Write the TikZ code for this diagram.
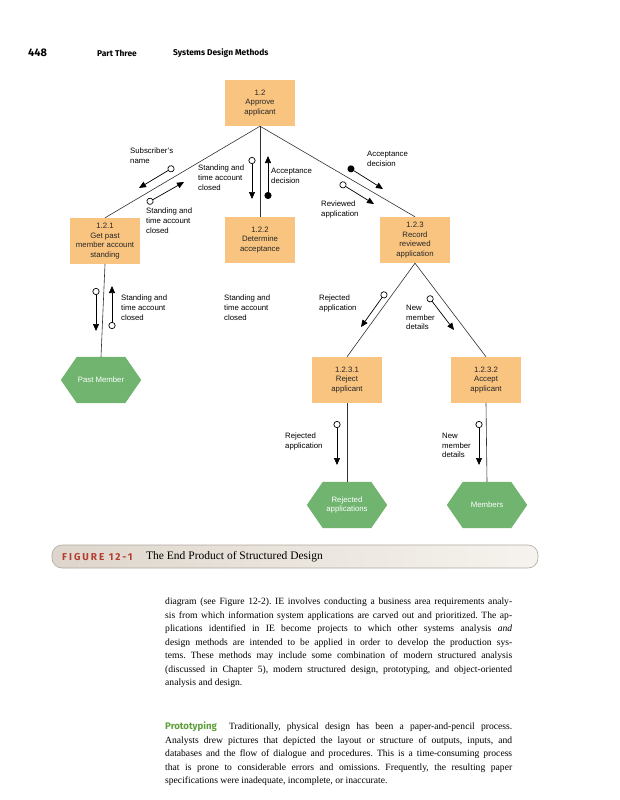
\documentclass[tikz,border=0pt]{standalone}
\usepackage{fontspec}
\setmainfont{Liberation Serif}
\setsansfont{Liberation Sans}
\newfontfamily\hdfont{Fira Sans}
\usetikzlibrary{arrows.meta,backgrounds}
\definecolor{boxorange}{RGB}{249,196,128}
\definecolor{hexgreen}{RGB}{112,180,112}
\definecolor{figred}{RGB}{180,60,45}
\definecolor{protogreen}{RGB}{95,160,60}
\definecolor{linegray}{RGB}{50,50,50}
\definecolor{barleft}{RGB}{222,214,204}
\definecolor{barright}{RGB}{246,243,238}
\definecolor{barborder}{RGB}{175,168,160}
\tikzset{
  diag/.style={font=\sffamily\fontsize{7.8}{9.6}\selectfont},
  proc/.style={diag, fill=boxorange, minimum width=70pt, minimum height=46pt, align=center, inner sep=1pt, text=black!85},
  hexn/.style={diag, minimum width=80pt, minimum height=46pt, align=center, text=white, inner sep=0pt},
  link/.style={draw=linegray, line width=0.6pt},
  flowo/.style={draw=black, line width=0.7pt, arrows={Circle[open,length=7pt,width=7pt]-Triangle[length=7pt,width=6pt]}},
  flowf/.style={draw=black, line width=0.7pt, arrows={Circle[length=7pt,width=7pt]-Triangle[length=7pt,width=6pt]}},
  lbl/.style={diag, align=left, anchor=north west, inner sep=0pt},
  hexfill/.style={fill=hexgreen},
  hdr/.style={anchor=west, inner sep=0pt, font=\hdfont\bfseries\fontsize{8.4}{9}\selectfont},
  body/.style={anchor=north west, inner sep=0pt, text width=347pt, align=justify, font=\fontsize{9.6}{13.5}\selectfont},
}
\newcommand{\hexpath}[1]{%
  \fill[hexfill] (#1.west) -- ([xshift=16pt]#1.north west) -- ([xshift=-16pt]#1.north east) -- (#1.east) -- ([xshift=-16pt]#1.south east) -- ([xshift=16pt]#1.south west) -- cycle;}
\newcommand{\jline}[1]{\hbox to 347pt{#1}}
\begin{document}
\begin{tikzpicture}[x=1pt,y=-1pt]
\useasboundingbox (0,0) rectangle (619,800);

% header
\node[hdr, font=\hdfont\bfseries\fontsize{11}{12}\selectfont] (pg) at (28,53) {448};
\node[hdr] (part) at (97,53) {Part Three};
\node[hdr] (chap) at (173,53) {Systems Design Methods};

% process boxes
\node[proc] (n12) at (260,103) {1.2\\Approve\\applicant};
\node[proc] (n121) at (105,241) {1.2.1\\Get past\\member account\\standing};
\node[proc] (n122) at (260,240) {1.2.2\\Determine\\acceptance};
\node[proc] (n123) at (415,240) {1.2.3\\Record\\reviewed\\application};
\node[proc] (n1231) at (347,380) {1.2.3.1\\Reject\\applicant};
\node[proc] (n1232) at (486,380) {1.2.3.2\\Accept\\applicant};

% data stores (hexagons)
\node[hexn] (past) at (101,380) {Past Member};
\node[hexn] (rej) at (347,505) {Rejected\\applications};
\node[hexn] (mem) at (487,505) {Members};
\begin{scope}[on background layer]
\fill[white] (0,0) rectangle (619,800);
\hexpath{past}
\hexpath{rej}
\hexpath{mem}
\end{scope}

% structure links
\draw[link] (n12.south) -- (n121.north);
\draw[link] (n12.south) -- (n122.north);
\draw[link] (n12.south) -- (n123.north);
\draw[link] (n123.south) -- (n1231.north);
\draw[link] (n123.south) -- (n1232.north);
\draw[link] (n121.south) -- (past.north);
\draw[link] (n1231.south) -- (rej.north);
\draw[link] (n1232.south) -- (mem.north);

% flow couples
\coordinate (a1s) at (174,167); \coordinate (a1e) at (139,188);
\coordinate (a2s) at (147,203); \coordinate (a2e) at (184,182);
\coordinate (a3s) at (252,157); \coordinate (a3e) at (252,199);
\coordinate (a4s) at (268,199); \coordinate (a4e) at (268,156);
\coordinate (a5s) at (348,167); \coordinate (a5e) at (383,189);
\coordinate (a6s) at (340,183); \coordinate (a6e) at (374,204);
\coordinate (a7s) at (96,288);  \coordinate (a7e) at (96,331);
\coordinate (a8s) at (112,329); \coordinate (a8e) at (112,286);
\coordinate (a9s) at (386,292); \coordinate (a9e) at (361,327);
\coordinate (a10s) at (428,296); \coordinate (a10e) at (454,330);
\coordinate (a11s) at (337,421); \coordinate (a11e) at (337,465);
\coordinate (a12s) at (479,421); \coordinate (a12e) at (479,465);
\draw[flowo] (a1s) -- (a1e);
\draw[flowo] (a2s) -- (a2e);
\draw[flowo] (a3s) -- (a3e);
\draw[flowf] (a4s) -- (a4e);
\draw[flowf] (a5s) -- (a5e);
\draw[flowo] (a6s) -- (a6e);
\draw[flowo] (a7s) -- (a7e);
\draw[flowo] (a8s) -- (a8e);
\draw[flowo] (a9s) -- (a9e);
\draw[flowo] (a10s) -- (a10e);
\draw[flowo] (a11s) -- (a11e);
\draw[flowo] (a12s) -- (a12e);

% flow labels
\node[lbl] (l1) at (130,148) {Subscriber's\\name};
\node[lbl] (l2) at (146,208) {Standing and\\time account\\closed};
\node[lbl] (l3) at (198,165) {Standing and\\time account\\closed};
\node[lbl] (l4) at (271,168) {Acceptance\\decision};
\node[lbl] (l5) at (367,151) {Acceptance\\decision};
\node[lbl] (l6) at (321,201) {Reviewed\\application};
\node[lbl] (l7) at (121,295) {Standing and\\time account\\closed};
\node[lbl] (l8) at (224,295) {Standing and\\time account\\closed};
\node[lbl] (l9) at (319,295) {Rejected\\application};
\node[lbl] (l10) at (406,305) {New\\member\\details};
\node[lbl] (l11) at (285,433) {Rejected\\application};
\node[lbl] (l12) at (442,433) {New\\member\\details};

% caption bar
\draw[barborder, line width=0.6pt, rounded corners=10pt, left color=barleft, right color=barright] (52,545) rectangle (538,568);
\node[anchor=west, inner sep=0pt, text=figred, font=\hdfont\bfseries\fontsize{10}{11}\selectfont\addfontfeatures{LetterSpace=20}] (figlbl) at (62,557) {FIGURE 12-1};
\node[anchor=west, inner sep=0pt, font=\fontsize{11.5}{13}\selectfont] (figttl) at (146,557) {The End Product of Structured Design};

% body text
\node[body] (para1) at (165,598) {\frenchspacing\spaceskip=0pt\xspaceskip=0pt
\jline{diagram (see Figure 12-2). IE involves conducting a business area requirements analy-}
\jline{sis from which information system applications are carved out and prioritized. The ap-}
\jline{plications identified in IE become projects to which other systems analysis \textit{and}}
\jline{design methods are intended to be applied in order to develop the production sys-}
\jline{tems. These methods may include some combination of modern structured analysis}
\jline{(discussed in Chapter 5), modern structured design, prototyping, and object-oriented}
\hbox{analysis and design.}};
\node[body] (para2) at (165,722) {\frenchspacing\spaceskip=0pt\xspaceskip=0pt
\jline{{\hdfont\bfseries\color{protogreen}Prototyping}\hspace{6pt} Traditionally, physical design has been a paper-and-pencil process.}
\jline{Analysts drew pictures that depicted the layout or structure of outputs, inputs, and}
\jline{databases and the flow of dialogue and procedures. This is a time-consuming process}
\jline{that is prone to considerable errors and omissions. Frequently, the resulting paper}
\hbox{specifications were inadequate, incomplete, or inaccurate.}};
\end{tikzpicture}
\end{document}
